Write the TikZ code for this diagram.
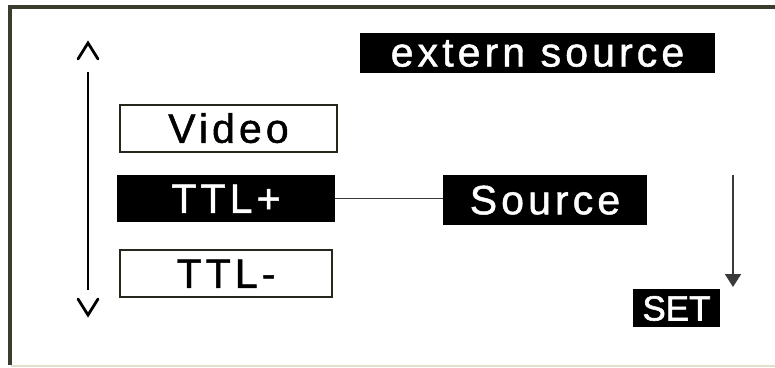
\documentclass[tikz,border=0pt]{standalone}
\usepackage{fontspec}
\setmainfont{Liberation Sans}
\newfontfamily\menufont[LetterSpace=10,FakeBold=1.2]{Liberation Sans}
\newfontfamily\keyfont[FakeBold=1.6]{Liberation Sans}
\usetikzlibrary{arrows.meta}
\definecolor{framecol}{HTML}{3C3C2E}
\definecolor{bottomcol}{HTML}{E2DFCC}
\definecolor{edgecol}{HTML}{26261C}
\definecolor{linecol}{HTML}{3A3A3A}
\tikzset{
  x=1pt, y=-1pt,
  menutext/.style={font=\menufont\fontsize{41pt}{43pt}\selectfont,
    inner sep=0pt, text height=28.5pt, text depth=0pt, align=center},
  plainbox/.style={menutext, draw=edgecol, line width=2pt, fill=white,
    text=black},
  darkbox/.style={menutext, fill=black, text=white},
  chevron/.style={draw=black, line width=2.8pt, line cap=round,
    line join=miter},
  guide/.style={draw=black, line width=2.2pt},
}
\begin{document}
\begin{tikzpicture}
  \useasboundingbox (0,0) rectangle (775,367);
  \fill[white] (0,0) rectangle (775,367);

  % screen frame
  \draw[framecol, line width=3.5pt] (10,365) -- (10,7) -- (775,7);
  \draw[bottomcol, line width=2pt] (11,365.5) -- (775,365.5);

  % menu entries
  \node[plainbox, minimum width=217pt, minimum height=47pt]
    (video) at (228.5,128.5) {Video};
  \node[darkbox, minimum width=218pt, minimum height=47pt]
    (ttlp) at (226,198.5) {TTL+};
  \node[plainbox, minimum width=212pt, minimum height=47pt]
    (ttlm) at (226,273.5) {TTL-};

  % title and selected item
  \node[darkbox, minimum width=355pt, minimum height=40pt, text height=27pt]
    (title) at (537.5,53) {extern source};
  \node[darkbox, minimum width=204pt, minimum height=50pt]
    (source) at (545,200) {Source};
  \node[darkbox, font=\keyfont\fontsize{35pt}{37pt}\selectfont,
    text height=25pt, minimum width=87pt, minimum height=38pt]
    (set) at (676.5,308) {SET};

  \draw[linecol, line width=1.6pt] (ttlp.east) -- (ttlp.east -| source.west);

  % scroll indicator
  \coordinate (scrolltop) at (88,72);
  \coordinate (scrollbot) at (88,290);
  \draw[guide] (scrolltop) -- (scrollbot);
  \draw[chevron] (78,59) -- (88,43) -- (98,59);
  \draw[chevron] (78,299) -- (88,315) -- (98,299);

  % confirm arrow
  \coordinate (settop) at (733,175);
  \coordinate (setend) at (733,287);
  \draw[linecol, line width=2pt, -{Triangle[width=16pt,length=13pt]}]
    (settop) -- (setend);
\end{tikzpicture}
\end{document}
